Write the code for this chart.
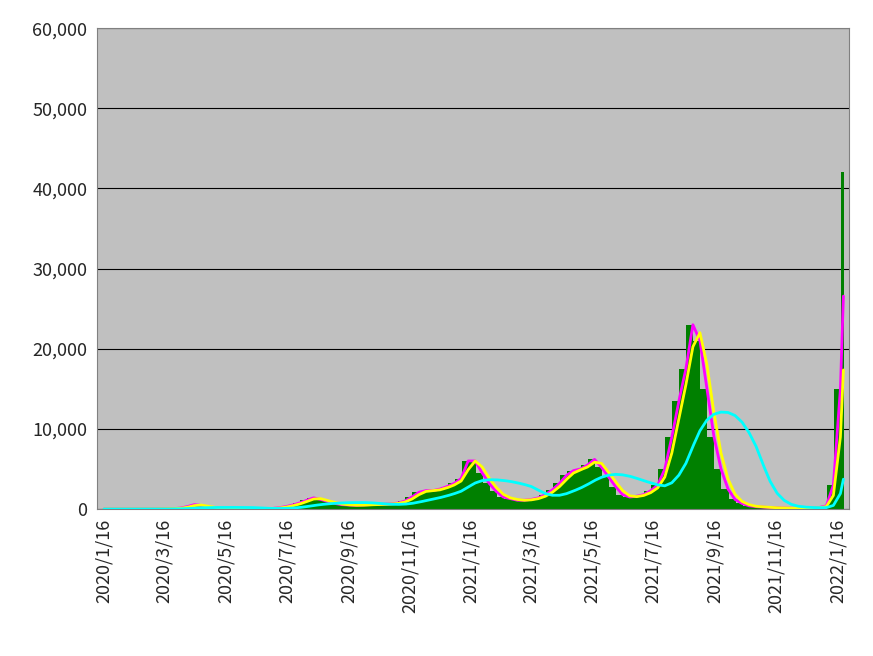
import numpy as np, pandas as pd, matplotlib
matplotlib.use("Agg")
import matplotlib.pyplot as plt, seaborn as sns
from matplotlib.ticker import FuncFormatter

start = "2020-01-16"
end = "2022-01-22"
# weekly mean daily cases, week starting at start
weekly = [1,2,3,3,5,10,15,
          30,45,50,120,
          300,550,450,250,150,
          80,40,25,25,
          40,45,50,70,
          150,300,500,750,1100,
          1400,1200,950,700,
          550,500,450,500,
          550,550,600,650,750,
          1000,1500,2100,2300,
          2300,2500,2800,3200,3800,
          6000,6000,4500,3200,
          2200,1500,1300,1100,
          1100,1200,1400,1800,
          2400,3200,4200,4800,5000,
          5500,6200,5200,4000,
          2800,1800,1500,1600,
          1800,2300,3000,5000,9000,
          13500,17500,23000,21000,
          15000,9000,5000,2500,1200,
          700,400,300,250,
          180,150,120,110,
          110,120,140,200,400,
          3000,15000,42000]

dates = pd.date_range(start, end, freq="D")
daily = np.repeat(weekly, 7)[:len(dates)]
df = pd.DataFrame({"date": dates, "cases": daily})
df["ma7"] = df["cases"].rolling(7, min_periods=1).mean()
df["ma14"] = df["cases"].rolling(14, min_periods=1).mean()
df["ma70"] = df["cases"].rolling(70, min_periods=1).mean()

sns.set_style("white")
plt.rcParams['font.family'] = ['Noto Sans CJK JP', 'DejaVu Sans']
fig = plt.figure(figsize=(8.73, 6.56), dpi=100)
ax = fig.add_axes([0.111, 0.224, 0.862, 0.733])
ax.set_facecolor("#c0c0c0")
ax.bar(df["date"], df["cases"], width=1.0, color="#008000", edgecolor="#008000", linewidth=0, zorder=2)
sns.lineplot(data=df, x="date", y="ma7", color="#ff00ff", lw=2, ax=ax, zorder=3)
sns.lineplot(data=df, x="date", y="ma14", color="#ffff00", lw=2, ax=ax, zorder=4)
sns.lineplot(data=df, x="date", y="ma70", color="#00ffff", lw=2, ax=ax, zorder=5)
ax.set_ylim(0, 60000)
ax.set_yticks(range(0, 60001, 10000))
ax.yaxis.set_major_formatter(FuncFormatter(lambda v, p: f"{int(v):,}"))
ax.set_xlim(pd.Timestamp("2020-01-09"), pd.Timestamp("2022-01-28"))
ticks = pd.date_range("2020-01-01", "2022-01-01", freq="2MS") + pd.Timedelta(days=15)
ax.set_xticks(ticks)
ax.set_xticklabels([f"{t.year}/{t.month}/{t.day}" for t in ticks], rotation=90, fontsize=13)
ax.tick_params(axis="y", labelsize=13)
ax.grid(axis="y", color="black", lw=0.8, zorder=1)
ax.set_axisbelow(True)
ax.set_xlabel(""); ax.set_ylabel("")
for s in ax.spines.values():
    s.set_color("#808080")
fig.savefig("out.png")
